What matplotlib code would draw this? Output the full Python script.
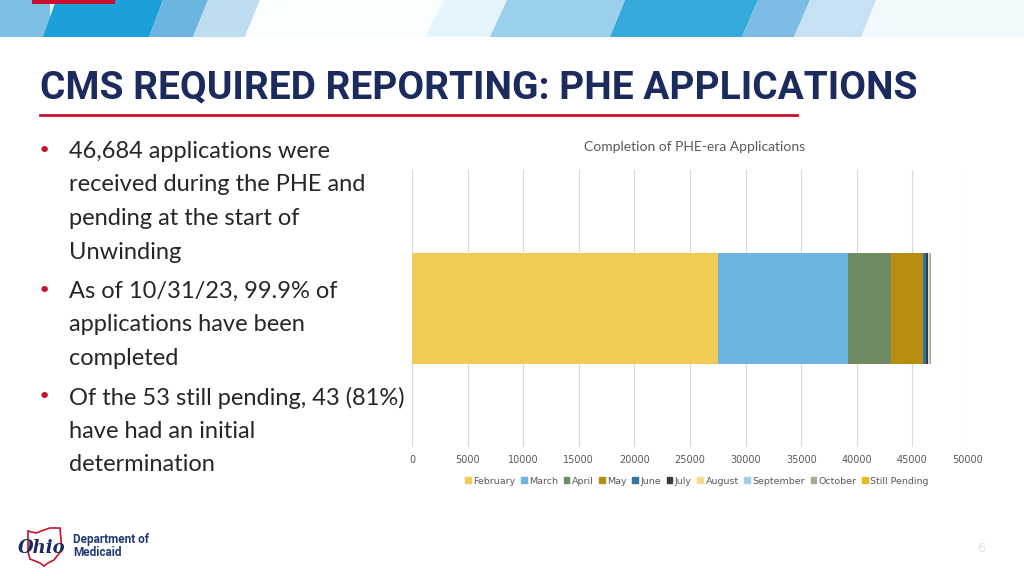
import matplotlib
matplotlib.use("Agg")
import matplotlib.pyplot as plt
from matplotlib.patches import Polygon, Rectangle, Patch
import numpy as np

NAVY = "#1B2B5E"
RED = "#C8102E"
GRAY = "#595959"
TEXT = "#262626"

# data (applications completed by month, last = still pending)
months = ["February", "March", "April", "May", "June", "July",
          "August", "September", "October", "Still Pending"]
counts = [27500, 11700, 3870, 2840, 330, 150, 120, 70, 51, 53]
colors = ["#F0CB56", "#6BB5DE", "#708A63", "#B78D10", "#2E75A8", "#3A3A3A",
          "#F5DC8F", "#9FCDEB", "#A0AC93", "#E8B923"]
x_ticks = list(range(0, 50001, 5000))

bullets = [
    ["46,684 applications were", "received during the PHE and",
     "pending at the start of", "Unwinding"],
    ["As of 10/31/23, 99.9% of", "applications have been", "completed"],
    ["Of the 53 still pending, 43 (81%)", "have had an initial", "determination"],
]

fig = plt.figure(figsize=(10.24, 5.76), dpi=100, facecolor="white")
bg = fig.add_axes([0, 0, 1, 1])
bg.set_xlim(0, 1024)
bg.set_ylim(576, 0)
bg.axis("off")

# banner stripes across the top
H = 37
bg.add_patch(Rectangle((0, 0), 1024, H, color="#F2F9FD", lw=0))
bg.add_patch(Rectangle((0, 0), 50, H, color="#7DC0E5", lw=0))
stripes = [
    (43, 56, 149, 163, "#1BA0D8"),
    (149, 163, 193, 208, "#6BB5E0"),
    (193, 208, 245, 260, "#BFDDF0"),
    (425, 444, 490, 507, "#E3F4FB"),
    (490, 507, 610, 625, "#9BD0EC"),
    (610, 625, 742, 758, "#35AADA"),
    (742, 758, 794, 810, "#7DBDE5"),
    (794, 810, 861, 876, "#C5E1F3"),
]
for xb0, xt0, xb1, xt1, c in stripes:
    bg.add_patch(Polygon([(xb0, H), (xt0, 0), (xt1, 0), (xb1, H)], color=c, lw=0))
bg.add_patch(Polygon([(245, H), (260, 0), (444, 0), (425, H)], color="#FBFEFF", lw=0))
bg.add_patch(Rectangle((32, 0), 83, 4, color=RED, lw=0))

# title and underline
bg.text(40, 88, "CMS REQUIRED REPORTING: PHE APPLICATIONS",
        fontsize=28, fontweight="bold", color=NAVY, va="center", ha="left",
        family=["Liberation Sans Narrow", "Roboto"])
bg.plot([40, 797], [115, 115], color=RED, lw=2)

# bullet text
y = 151
for i, lines in enumerate(bullets):
    bg.text(44, y, "•", color=RED, fontsize=16, va="center", ha="center")
    for line in lines:
        bg.text(69, y, line, fontsize=17, color=TEXT, va="center", ha="left",
                family="Lato")
        y += 33.7
    y += 5.3

# chart
bg.text(695, 147, "Completion of PHE-era Applications", fontsize=10,
        color=GRAY, ha="center", va="center", family="Lato")
ax = fig.add_axes([412 / 1024, 1 - 447 / 576, 556 / 1024, 277 / 576])
left = np.concatenate([[0], np.cumsum(counts)[:-1]])
ax.barh([0] * len(counts), counts, left=left, height=0.4, color=colors, zorder=3)
ax.set_xlim(0, 50000)
ax.set_ylim(-0.5, 0.5)
ax.set_xticks(x_ticks)
ax.set_xticklabels([str(t) for t in x_ticks], fontsize=7, color=GRAY)
ax.set_yticks([])
ax.tick_params(axis="x", length=0, pad=6)
ax.grid(axis="x", color="#D9D9D9", lw=0.8, zorder=0)
for s in ax.spines.values():
    s.set_visible(False)
ax.set_facecolor("none")

handles = [Patch(color=c, label=m) for m, c in zip(months, colors)]
fig.legend(handles=handles, loc="center", bbox_to_anchor=(697 / 1024, 1 - 481 / 576),
           ncol=10, fontsize=6.8, frameon=False, handlelength=0.6, handleheight=0.6,
           columnspacing=0.6, handletextpad=0.25, labelcolor=GRAY)

# logo
ohio = [(28, 531), (36, 533), (44, 530), (50, 528), (60, 528), (61, 540), (62, 550),
        (57, 556), (54, 560), (48, 563), (44, 566), (40, 563), (35, 561), (30, 559),
        (28, 552), (28, 540)]
bg.add_patch(Polygon(ohio, closed=True, fill=False, edgecolor=RED, lw=1.2))
bg.text(42, 548, "Ohio", fontsize=13, style="italic", fontweight="bold",
        color=NAVY, ha="center", va="center", family="DejaVu Serif")
bg.text(73, 540, "Department of", fontsize=8.5, fontweight="bold", color="#1F3A74",
        va="center", ha="left", family="Roboto")
bg.text(73, 552, "Medicaid", fontsize=8.5, fontweight="bold", color="#1F3A74",
        va="center", ha="left", family="Roboto")
bg.text(981, 549, "6", fontsize=9, color="#E3E3E3", ha="center", va="center")

fig.savefig("out.png", dpi=100, facecolor="white")
